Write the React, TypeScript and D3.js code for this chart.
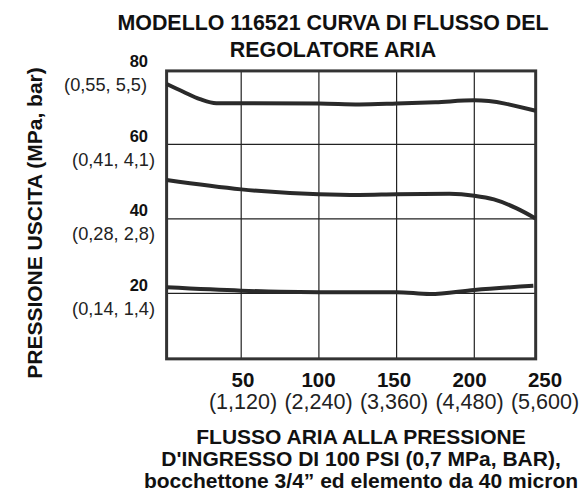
import React from "react";
import * as d3 from "d3";

const W = 587;
const H = 492;

const titleLines = ["MODELLO 116521 CURVA DI FLUSSO DEL", "REGOLATORE ARIA"];
const yTitle = "PRESSIONE USCITA (MPa, bar)";
const xTitleLines = [
  "FLUSSO ARIA ALLA PRESSIONE",
  "D'INGRESSO DI 100 PSI (0,7 MPa, BAR),",
  "bocchettone 3/4\u201d ed elemento da 40 micron",
];

const yTicks = [80, 60, 40, 20];
const yTickSub = ["(0,55, 5,5)", "(0,41, 4,1)", "(0,28, 2,8)", "(0,14, 1,4)"];
const xTicks = [50, 100, 150, 200, 250];
const xTickSub = ["(1,120)", "(2,240)", "(3,360)", "(4,480)", "(5,600)"];
const xGrid = [50, 100, 150, 200];
const yGrid = [60, 40, 20];
const xExtent = [2, 239.5];
const yExtent = [2.4, 79.7];

const flowHigh = [2, 12.7, 23.5, 34, 50, 100, 126, 150, 175, 200, 239.5];
const pressHigh = [76.2, 74.1, 72.1, 71.0, 71.0, 70.95, 70.7, 70.95, 71.3, 71.8, 69.0];

const flowMid = [2, 50, 100, 126, 150, 184, 200, 212.6, 227.3, 239.4];
const pressMid = [50.4, 47.9, 46.6, 46.4, 46.6, 46.7, 46.2, 45.2, 42.8, 40.1];

const flowLow = [2, 50, 75, 100, 150, 171.4, 200, 238];
const pressLow = [21.6, 20.7, 20.4, 20.3, 20.3, 19.8, 20.9, 22.0];

const series = [
  { flow: flowHigh, press: pressHigh },
  { flow: flowMid, press: pressMid },
  { flow: flowLow, press: pressLow },
];

const FONT = "'Liberation Sans', Arial, Helvetica, sans-serif";

export default function App() {
  const x = d3.scaleLinear().domain([0, 250]).range([163.5, 552]);
  const y = d3.scaleLinear().domain([0, 80]).range([367.8, 69.8]);
  const xLabel = d3.scaleLinear().domain([50, 250]).range([243, 545]);

  const line = d3
    .line<[number, number]>()
    .x((d) => x(d[0]))
    .y((d) => y(d[1]))
    .curve(d3.curveMonotoneX);

  const left = x(xExtent[0]);
  const right = x(xExtent[1]);
  const top = y(yExtent[1]);
  const bottom = y(yExtent[0]);

  return (
    <svg
      width={W}
      height={H}
      viewBox={`0 0 ${W} ${H}`}
      style={{ position: "absolute", left: 0, top: 0, background: "#fff" }}
      fontFamily={FONT}
    >
      {titleLines.map((t, i) => (
        <text
          key={t}
          x={333}
          y={29.5 + i * 27.5}
          textAnchor="middle"
          fontWeight="bold"
          fontSize={21.4}
          fill="#111"
        >
          {t}
        </text>
      ))}

      <text
        transform={`translate(42,223) rotate(-90)`}
        textAnchor="middle"
        fontWeight="bold"
        fontSize={21}
        fill="#111"
      >
        {yTitle}
      </text>

      {yGrid.map((v) => (
        <line key={v} x1={left} x2={right} y1={y(v)} y2={y(v)} stroke="#222" strokeWidth={1.2} />
      ))}
      {xGrid.map((v) => (
        <line key={v} x1={x(v)} x2={x(v)} y1={top} y2={bottom} stroke="#222" strokeWidth={1.2} />
      ))}

      <rect
        x={left}
        y={top}
        width={right - left}
        height={bottom - top}
        fill="none"
        stroke="#333"
        strokeWidth={3}
      />

      {series.map((s, i) => (
        <path
          key={i}
          d={line(s.flow.map((f, j) => [f, s.press[j]] as [number, number])) || ""}
          fill="none"
          stroke="#2a2a2a"
          strokeWidth={4}
          strokeLinecap="butt"
        />
      ))}

      {yTicks.map((v, i) => (
        <g key={v}>
          <text x={148} y={y(v) - 2.5} textAnchor="end" fontWeight="bold" fontSize={16.5} fill="#111">
            {v}
          </text>
          <text
            x={i === 0 ? 147 : 155}
            y={y(v) + 21.5}
            textAnchor="end"
            fontSize={18.2}
            fill="#222"
          >
            {yTickSub[i]}
          </text>
        </g>
      ))}

      {xTicks.map((v, i) => (
        <g key={v}>
          <text x={xLabel(v)} y={386.5} textAnchor="middle" fontWeight="bold" fontSize={20.5} fill="#111">
            {v}
          </text>
          <text x={xLabel(v)} y={409} textAnchor="middle" fontSize={21.5} fill="#222">
            {xTickSub[i]}
          </text>
        </g>
      ))}

      {xTitleLines.map((t, i) => (
        <text
          key={t}
          x={361}
          y={444 + i * 22}
          textAnchor="middle"
          fontWeight="bold"
          fontSize={21}
          fill="#111"
        >
          {t}
        </text>
      ))}
    </svg>
  );
}
